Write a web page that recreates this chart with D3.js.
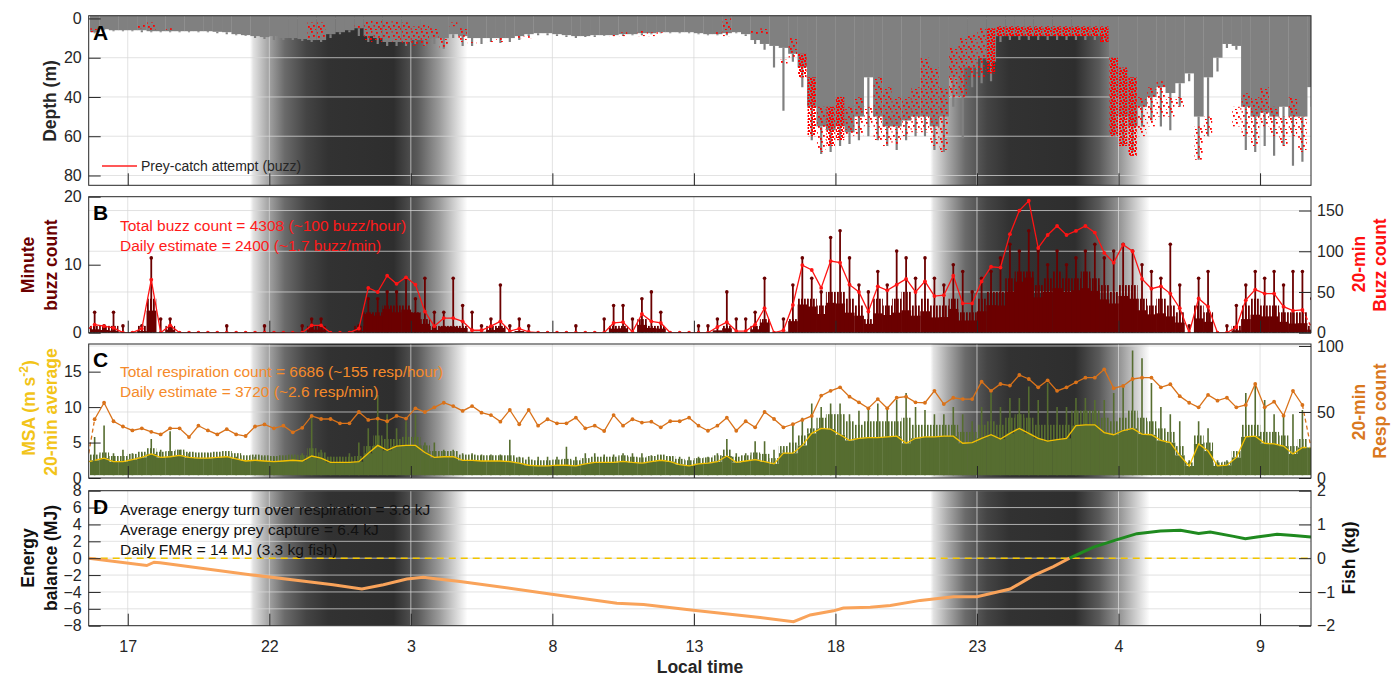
<!DOCTYPE html>
<html>
<head>
<meta charset="utf-8">
<script src="https://cdn.jsdelivr.net/npm/d3@7/dist/d3.min.js"></script>
<style>
  body { margin: 0; background: #fff; }
  svg { display: block; font-family: "Liberation Sans", Arial, Helvetica, sans-serif; }
</style>
</head>
<body>
<svg id="chart" width="1391" height="676"></svg>
<script>
// ---------- data ----------
// time = hours since midnight of day 1 (27 = 03:00 day 2, 51 = 03:00 day 3)
const xTickHours = [17, 22, 27, 32, 37, 42, 47, 52, 57];
const xTickLabels = ["17", "22", "3", "8", "13", "18", "23", "4", "9"];
const timeStart = 15.62, timeEnd = 58.8;
const nightStart = [21.32, 45.35];
const nightEnd = [29.0, 53.1];

// 20-min bins, first bin centred at 15:50 (130 bins)
const binFirst = 15.83;
const binT = d3.range(130).map(k => binFirst + k / 3);
// line series: partial first point, 129 bin points, partial last point
const lineT = [timeStart].concat(binT.slice(0, 129), [58.78]);

// A: dive depth per bin (m): dense part and deepest dive
const depthMass = [7,5.5,6,6,6,6,6.5,6.5,6.5,6.5, 6.5,6.5,6.5,6.8,7,8,8.5,9,9.5,9,
  10,10,10.5,11,11,8,7,6,5,9, 10,12,12,12,11,11,10,10,8,9,
  10,10,10,10,10,9,8,7.5,7.5,8, 8.5,9,9,8.5,8.5,8.5,8,8,7.5,7.5,
  7,7,7,7,7.5,8,8,7.5,7,8, 11,13,14,15,18,25,45,55,57,55,
  58,50,30,50,55,55,52,50, 50,55,50,30,25,25,20,22,9,9,
  9,9,9,9,9,9,9,9,9,9, 40,50,55,45,40,35,38,33,28,50,
  30,20,13,14,45,50,48,50,45,50, 50,35];
const depthMax = [7.5,6,6.5,6.5,6.5,7,7,7,7,7, 7,7,7,7.5,8,8.5,9,10,10.5,11,
  11,11,11.5,12,12,10,8,7,9,12, 13,14,14,14,13,14,13,15.5,10,14,
  14,13,12,12.5,12,11,9,8.5,8.5,9, 9.5,10,9.5,9.5,9,9,9,8.5,8.5,8,
  7.5,7.5,7.5,7.5,8,8.5,8.5,8.5,7.5,9, 13,16,25,47,22,35,62,69,68,65,
  64,62,60,62,65,67,62,60, 60,67,68,45,61,35,33,32,12,11,
  11,11,11,11,11,11,11,11,11,12, 60,65,68,55,52,55,57,45,32,72,
  60,27,15,16,67,68,65,70,65,75, 73,45];
// A: depth range of the buzzes in each bin (m), null = no buzz
const n = null;
const buzzTop = [5,n,n,n,n,3,2,n,5,n, n,n,n,n,n,n,n,n,n,n, n,n,n,2,2,n,n,n,3,1,
  1,1,1,2,4,3,5,10,2,5, 12,n,11,10,n,9,9,n,n,n, n,n,n,n,n,8,7,n,6,7,
  7,n,n,n,n,n,7,0,n,n, 6,5,n,21,10,18,30,45,45,40, 45,40,45,30,35,40,40,35,20,25,
  35,15,10,8,5,5,4,4,4,4, 4,4,4,4,4,4,4,4,20,25, 30,40,35,32,40,40,n,55,50,n,
  n,45,38,40,35,45,50,40,50,n];
const buzzBot = [7,n,n,n,n,5,6,n,6,n, n,n,n,n,n,n,n,n,n,n, n,n,n,10,10,n,n,n,5,12,
  12,10,12,13,14,14,10,15,4,12, 13,n,12,12,n,10,10,n,n,n, n,n,n,n,n,9,9,n,9,9,
  8,n,n,n,n,n,8,9,n,n, 8,8,n,23,20,30,60,68,65,62, 60,60,55,62,65,64,60,58,58,65,
  68,40,40,30,30,28,9,9,9,9, 9,9,9,9,9,9,9,12,60,65, 70,60,55,50,50,45,n,72,60,n,
  n,55,60,65,55,60,65,60,68,n];

// B: buzzes per 20 min (line), max and dense level of buzzes per minute in each bin
const buzz20 = [5,
  10,8,6,0,0,5,65,0,9,0, 0,0,0,0,0,0,0,0,0,0, 0,0,0,9,9,0,0,0,5,55,
  50,70,60,68,59,26,8,18,18,14, 3,3,8,14,2,5,1,0,0,0, 0,0,0,0,0,12,13,1,23,14,
  12,0,0,0,0,0,7,13,2,2, 10,30,0,3,34,83,77,55,88,86, 59,50,26,57,52,59,66,50,63,45,
  46,70,36,36,63,81,80,121,150,162, 104,120,131,120,125,131,123,98,86,108,
  100,66,54,57,48,30,0,42,32,0, 0,7,40,53,48,48,32,27,28,
  9];
const buzzMax = [3,1,3,1,0,1,11,2,2,0, 0,0,0,0,1,0,0,0,1,0, 0,0,1,2,2,0,0,0,1,5,
  5,6,6,8,5,8,3,3,8,4, 3,1,2,7,1,2,1,0,0,0, 0,1,0,0,2,4,4,2,5,6,
  3,0,0,0,1,1,2,6,2,2, 3,8,0,2,7,11,8,6,14,15, 11,7,6,9,7,12,11,8,11,8,
  7,10,9,6,8,9,11,13,12,15, 12,10,12,10,11,12,13,11,12,13,
  12,10,9,8,13,7,1,8,9,0, 1,4,7,9,8,9,7,9,9,5];
const buzzUpper = [1,1,1,0,0,1,5,0,1,0, 0,0,0,0,0,0,0,0,0,0, 0,0,0,1,1,0,0,0,1,3,
  3,4,4,4,3,2,1,1,1,1, 0,0,1,1,0,0,0,0,0,0, 0,0,0,0,0,1,1,0,2,1,
  1,0,0,0,0,0,0,1,0,0, 1,2,0,0,2,5,5,4,6,6, 5,4,2,5,4,5,6,4,5,4,
  4,5,3,3,5,6,6,8,9,9, 7,8,9,8,8,9,8,7,6,7, 7,5,4,5,4,3,0,4,3,0,
  0,1,4,5,4,4,3,3,3,1];

// C: respirations per 20 min, 20-min mean MSA (m s^-2), dense level and peak MSA per bin
const resp20 = [18.7,
  44.5,57,43,39,36,37.6,35,33,37.6,37.6, 31,39.6,36,33,37,33,31.8,39,40.6,37.6,
  39.6,34.6,38,47,44.7,44.7,41.4,41.4,50,44, 45,43,47,45,52.8,50,53.5,57,54.5,50.8,
  54.5,49.5,47.7,42.7,51.5,40.7,51.5,39.6,44.5,41.4, 41.4,45.7,37.6,39.6,35.6,47.7,39.6,44.5,42,42.7,
  38.4,43,43,45.7,39.6,35.8,39.6,45.7,35.8,43, 38.4,50,44.7,38.4,40.7,44,47,62.4,66,68.7,
  61.6,57.3,52.8,59.8,52.8,60.8,61.6,57.3,57,66, 56,60.8,59.8,59.8,73,66,71.2,70,78,75,
  68.7,74,66,68.7,72.5,76,76,82.3,68,69.7, 75,76,76,68.7,71,62,57,53.5,62.9,58.6,
  60.8,53.5,55.3,71.2,53.5,57.8,47.2,66,55.3,
  25];
const msa20 = [2.3,
  2.5,2.8,2.3,2.3,2.6,2.9,3.4,2.9,3.0,3.2, 2.9,2.8,2.8,2.9,3.0,2.7,2.4,2.5,2.4,2.3,
  2.4,2.5,2.4,3.1,2.8,2.2,2.2,2.2,2.3,3.5, 4.6,3.9,4.5,4.6,4.6,3.6,2.9,3.0,3.0,2.5,
  2.5,2.4,2.4,2.4,2.3,2.1,1.8,1.7,1.7,1.8, 1.8,1.7,2.0,2.2,2.2,2.2,2.35,2.2,2.1,2.3,
  2.5,2.3,1.9,1.7,2.0,2.1,2.3,3.1,2.2,2.4, 2.6,2.3,2.0,3.5,3.5,4.6,6.3,7.0,6.9,6.1,
  5.3,5.6,5.7,5.7,5.8,5.9,4.9,5.6,5.8,5.8, 5.9,5.9,4.9,5.0,5.6,6.1,5.5,6.3,7.0,6.3,
  5.6,5.2,5.4,5.6,7.4,7.5,7.5,6.4,6.1,6.7, 7.0,6.2,6.1,5.3,5.0,3.2,1.7,4.8,3.8,1.7,
  1.8,2.9,5.8,5.9,4.9,4.8,4.5,3.4,4.3,
  4.3];
const msaUpper = [3.3,3.6,3.1,3.1,3.4,3.7,4.2,3.7,3.8,4.0, 3.7,3.6,3.6,3.7,3.8,3.5,3.2,3.3,3.2,3.1,
  3.2,3.3,3.2,4.2,3.6,3.0,3.0,3.0,3.1,4.5, 6,5.5,5.5,5.8,5.8,4.6,3.8,3.8,3.8,3.3,
  3.3,3.2,3.2,3.2,3.2,2.9,2.6,2.5,2.5,2.6, 2.7,2.5,2.8,3.0,3.0,3.0,3.2,3.0,2.9,3.1,
  3.3,3.1,2.7,2.5,2.8,2.9,3.2,4.0,3.0,3.2, 3.6,3.4,2.8,4.5,5,6,7,8.5,9,9,
  8,7.5,8,8,8,8,8.5,7.5,7.5,7.5, 7.5,7.5,6.5,6.5,7.5,8,7.5,8.5,9,8.5,
  7.5,7.5,7.5,7.5,9.5,9.5,9.5,8.5,8,8.5, 9.5,8.5,8,7,6.5,4.5,2.2,6,5,2.2,
  2.3,3.8,7.5,7.5,6.5,6.5,6,4.5,5.5,4];
const msaPeak = [5.8,7.4,3.5,4,3.5,3.5,5.5,4,6.6,4, 3.5,3,3.5,3,3,3,2.5,3,3,3,
  2.5,3,3.5,8.6,4,3,3,3.5,5,7, 11.7,9,7,8,9,5,5,4,4,3.5,
  3.5,3.3,3.3,3.3,5.4,3,3,3,3,3, 4.4,3,3.5,3.5,3.3,3.3,3.5,3.5,3.5,3.2,
  3.2,3,3,3,3,3,3.5,5.5,3.5,3.5, 5.2,5.2,4,4,7.5,8.5,10.5,10,10.5,10.5,
  9,9.5,10,10.5,10,11,12,10,9.6,9, 9,10,9,8,10,12,10,11.3,11.3,12.9,
  11,13.4,10,10,11.3,11.3,11,11,12,13, 18,16.9,13.4,10,9,8,2.5,8,7,2.5,
  2.5,3,12,13.4,11,9,9,9,9.6,6];

// D: cumulative energy balance (MJ); fish equivalent = MJ / 4 (kg)
const energyT = [15.62,17.67,17.93,18.14,21.32,23.09,24.25,25.27,26.03,26.86,27.44,27.8,28.74,
  31.98,34.28,35.22,36.98,39.34,40.52,41.11,41.93,42.28,43.23,43.94,45.0,46.17,47.0,48.17,
  48.99,49.7,50.27,51.12,51.95,52.65,53.48,54.19,54.83,55.24,56.07,56.48,56.89,57.6,58.19,58.8];
const energyMJ = [0,-0.87,-0.48,-0.55,-1.95,-2.66,-3.14,-3.66,-3.14,-2.46,-2.27,-2.4,-2.75,
  -4.26,-5.33,-5.5,-6.17,-7.04,-7.52,-6.72,-6.24,-5.9,-5.8,-5.6,-5.0,-4.57,-4.57,-3.66,
  -2.07,-0.99,0,1.31,2.2,2.91,3.22,3.3,2.93,3.1,2.59,2.3,2.5,2.83,2.7,2.5];

// ---------- layout ----------
const svg = d3.select("#chart");
const defs = svg.append("defs");
const x = d3.scaleLinear().domain([timeStart, timeEnd]).range([88.7, 1311]);
const binW = x(binFirst + 1 / 3) - x(binFirst);

const panels = {
  A: { top: 15.7, bottom: 185.3 },
  B: { top: 196.7, bottom: 332.7 },
  C: { top: 344, bottom: 478 },
  D: { top: 490.7, bottom: 625.7 }
};
const yA = d3.scaleLinear().domain([-1.4, 85]).range([panels.A.top, panels.A.bottom]);
const yBl = d3.scaleLinear().domain([0, 20]).range([panels.B.bottom, panels.B.top]);
const yBr = d3.scaleLinear().domain([0, 167]).range([panels.B.bottom, panels.B.top]);
const yCl = d3.scaleLinear().domain([0, 18.9]).range([panels.C.bottom, panels.C.top]);
const yCr = d3.scaleLinear().domain([0, 101.5]).range([panels.C.bottom, panels.C.top]);
const yDl = d3.scaleLinear().domain([-8, 8]).range([panels.D.bottom, panels.D.top]);
const yDr = d3.scaleLinear().domain([-2, 2]).range([panels.D.bottom, panels.D.top]);

// night shading gradient
const shadeStops = [[0, "#ffffff"], [0.015, "#e2e2e2"], [0.08, "#a8a8a8"], [0.16, "#6a6a6a"],
  [0.26, "#444444"], [0.36, "#323232"], [0.66, "#2e2e2e"], [0.77, "#5a5a5a"],
  [0.87, "#9a9a9a"], [0.95, "#d8d8d8"], [1, "#ffffff"]];
const grad = defs.append("linearGradient").attr("id", "night")
  .attr("x1", 0).attr("x2", 1).attr("y1", 0).attr("y2", 0);
grad.selectAll("stop").data(shadeStops).join("stop")
  .attr("offset", d => d[0]).attr("stop-color", d => d[1]);

// textures: red buzz dots (panel A) and dense stems (panels B, C)
function dotPattern(id, size, dot, cells) {
  const p = defs.append("pattern").attr("id", id)
    .attr("patternUnits", "userSpaceOnUse").attr("width", size).attr("height", size);
  cells.forEach(c => p.append("rect").attr("x", c[0]).attr("y", c[1])
    .attr("width", dot).attr("height", dot).attr("fill", "#ff0000"));
}
dotPattern("buzzSparse", 10, 1.8, [[1, 1], [6, 2], [3, 5], [8, 6], [0, 8], [5, 9]]);
dotPattern("buzzDense", 6, 2, [[0, 0], [3, 1], [1, 3], [4, 4], [2, 5]]);
function hatch(id, color, period, w) {
  defs.append("pattern").attr("id", id).attr("patternUnits", "userSpaceOnUse")
    .attr("width", period).attr("height", 10)
    .append("rect").attr("width", w).attr("height", 10).attr("fill", color);
}
const buzzRed = "#6b0000";
const msaGreen = "#566d30";
hatch("stemsB", buzzRed, 3, 1.8);
hatch("stemsC", msaGreen, 3, 1.6);

// background, grid and clip for one panel
function panel(key, gridVals, yScale) {
  const p = panels[key];
  defs.append("clipPath").attr("id", "clip" + key).append("rect")
    .attr("x", x.range()[0]).attr("y", p.top)
    .attr("width", x.range()[1] - x.range()[0]).attr("height", p.bottom - p.top);
  const g = svg.append("g").attr("clip-path", `url(#clip${key})`);
  nightStart.forEach((s, i) => {
    g.append("rect").attr("x", x(s)).attr("width", x(nightEnd[i]) - x(s))
      .attr("y", p.top).attr("height", p.bottom - p.top).attr("fill", "url(#night)");
  });
  const grid = g.append("g").attr("stroke", "#d8d8d8").attr("stroke-opacity", 0.75);
  gridVals.forEach(v => grid.append("line").attr("x1", x.range()[0]).attr("x2", x.range()[1])
    .attr("y1", yScale(v)).attr("y2", yScale(v)));
  xTickHours.forEach(h => grid.append("line").attr("x1", x(h)).attr("x2", x(h))
    .attr("y1", p.top).attr("y2", p.bottom));
  return g;
}

function styleAxis(sel) {
  sel.select(".domain").remove();
  sel.selectAll(".tick line").attr("stroke", "#262626");
  sel.selectAll(".tick text").attr("fill", "#262626").style("font-size", "16px");
}

function axes(key, yLeft, leftTicks, yRight, rightTicks) {
  const p = panels[key];
  svg.append("g").attr("transform", `translate(${x.range()[0]},0)`)
    .call(d3.axisLeft(yLeft).tickValues(leftTicks).tickFormat(d3.format("d"))
      .tickSize(-12).tickSizeOuter(0).tickPadding(7))
    .call(styleAxis);
  if (yRight) {
    svg.append("g").attr("transform", `translate(${x.range()[1]},0)`)
      .call(d3.axisRight(yRight).tickValues(rightTicks).tickFormat(d3.format("d"))
        .tickSize(-12).tickSizeOuter(0).tickPadding(6))
      .call(styleAxis);
  }
  const xa = d3.axisBottom(x).tickValues(xTickHours).tickSize(-12).tickSizeOuter(0);
  if (key === "D") xa.tickFormat((d, i) => xTickLabels[i]).tickPadding(15);
  else xa.tickFormat("");
  svg.append("g").attr("transform", `translate(0,${p.bottom})`).call(xa).call(styleAxis);
  svg.append("rect").attr("x", x.range()[0]).attr("y", p.top)
    .attr("width", x.range()[1] - x.range()[0]).attr("height", p.bottom - p.top)
    .attr("fill", "none").attr("stroke", "#262626").attr("stroke-width", 1);
  svg.append("text").attr("x", 93).attr("y", p.top + (key === "A" ? 24 : 23))
    .attr("font-size", "21px").attr("font-weight", "bold").attr("fill", "#000").text(key);
}

function vlabel(xb, yc, parts, color, size) {
  const t = svg.append("text").attr("transform", `translate(${xb},${yc}) rotate(-90)`)
    .attr("text-anchor", "middle").attr("font-weight", "bold")
    .attr("font-size", (size || 17.5) + "px").attr("fill", color);
  parts.forEach(s => {
    if (typeof s === "string") t.append("tspan").text(s);
    else t.append("tspan").attr("dy", s.dy).attr("font-size", s.size).text(s.text);
  });
}

// line with markers; first and last (partial-bin) segments dashed
function seriesLine(g, vals, yScale, color, withDots) {
  const pts = vals.map((v, i) => [x(lineT[i]), yScale(v)]);
  const line = d3.line();
  g.append("path").attr("d", line(pts.slice(1, pts.length - 1)))
    .attr("fill", "none").attr("stroke", color).attr("stroke-width", 1.3);
  [pts.slice(0, 2), pts.slice(pts.length - 2)].forEach(seg => {
    g.append("path").attr("d", line(seg)).attr("fill", "none").attr("stroke", color)
      .attr("stroke-width", 1.3).attr("stroke-dasharray", "4,3");
  });
  if (withDots) {
    g.selectAll(null).data(pts.slice(1, pts.length - 1)).join("circle")
      .attr("cx", d => d[0]).attr("cy", d => d[1]).attr("r", 1.9).attr("fill", color);
  }
}

// bins drawn as rectangles between two levels
function binRects(g, lo, hi, yScale, fill) {
  g.selectAll(null).data(binT.map((t, i) => [t, lo(i), hi(i)]).filter(d => d[2] > d[1]))
    .join("rect")
    .attr("x", d => x(d[0]) - binW / 2).attr("width", binW + 0.3)
    .attr("y", d => yScale(d[2])).attr("height", d => yScale(d[1]) - yScale(d[2]))
    .attr("fill", fill);
}

// ---------- A: depth ----------
const gA = panel("A", [0, 20, 40, 60, 80], yA);
gA.selectAll(null).data(binT).join("rect")
  .attr("x", t => x(t) - binW / 2).attr("width", binW + 0.3)
  .attr("y", yA(-1.4)).attr("height", (t, i) => yA(depthMass[i]) - yA(-1.4))
  .attr("fill", "#808080");
gA.selectAll(null).data(binT).join("line")
  .attr("x1", t => x(t)).attr("x2", t => x(t))
  .attr("y1", (t, i) => yA(depthMass[i])).attr("y2", (t, i) => yA(depthMax[i]))
  .attr("stroke", "#808080").attr("stroke-width", 2.2);
gA.selectAll(null).data(binT.map((t, i) => [t, buzzTop[i], buzzBot[i], buzz20[i + 1]]).filter(d => d[1] !== null))
  .join("rect")
  .attr("x", d => x(d[0]) - binW / 2 + 0.5).attr("width", binW - 1)
  .attr("y", d => yA(d[1])).attr("height", d => Math.max(2, yA(d[2]) - yA(d[1])))
  .attr("fill", d => d[3] > 70 ? "url(#buzzDense)" : "url(#buzzSparse)");
axes("A", yA, [0, 20, 40, 60, 80]);
vlabel(56, 101, ["Depth (m)"], "#262626");
svg.append("line").attr("x1", 102).attr("x2", 137).attr("y1", 166).attr("y2", 166)
  .attr("stroke", "#ff2020").attr("stroke-width", 1.3);
svg.append("text").attr("x", 141).attr("y", 171).attr("font-size", "14px").attr("fill", "#262626")
  .text("Prey-catch attempt (buzz)");

// ---------- B: buzzes ----------
const gB = panel("B", [0, 50, 100, 150], yBr);
binRects(gB, i => 0, i => buzzUpper[i], yBl, "url(#stemsB)");
binRects(gB, i => 0, i => buzz20[i + 1] / 20, yBl, buzzRed);
const stemsB = binT.map((t, i) => [t, buzzMax[i]]).filter(d => d[1] > 0);
gB.selectAll(null).data(stemsB).join("line")
  .attr("x1", d => x(d[0])).attr("x2", d => x(d[0])).attr("y1", yBl(0)).attr("y2", d => yBl(d[1]))
  .attr("stroke", buzzRed).attr("stroke-width", 1.8);
gB.selectAll(null).data(stemsB).join("circle")
  .attr("cx", d => x(d[0])).attr("cy", d => yBl(d[1])).attr("r", 1.8).attr("fill", buzzRed);
seriesLine(gB, buzz20, yBr, "#ff1414", true);
axes("B", yBl, [0, 10, 20], yBr, [0, 50, 100, 150]);
vlabel(34, 265, ["Minute"], buzzRed);
vlabel(57, 265, ["buzz count"], buzzRed);
vlabel(1365, 264, ["20-min"], "#ff1010");
vlabel(1386, 265, ["Buzz count"], "#ff1010");
svg.append("text").attr("x", 120).attr("y", 231).attr("font-size", "15.5px").attr("fill", "#ff1a1a")
  .text("Total buzz count = 4308 (~100 buzz/hour)");
svg.append("text").attr("x", 120).attr("y", 251).attr("font-size", "15.5px").attr("fill", "#ff1a1a")
  .text("Daily estimate = 2400 (~1.7 buzz/min)");

// ---------- C: respiration and MSA ----------
const gC = panel("C", [0, 50, 100], yCr);
binRects(gC, i => msa20[i + 1], i => msaUpper[i], yCl, "url(#stemsC)");
binRects(gC, i => 0.4, i => msa20[i + 1], yCl, msaGreen);
gC.selectAll(null).data(binT).join("line")
  .attr("x1", t => x(t)).attr("x2", t => x(t))
  .attr("y1", yCl(0.4)).attr("y2", (t, i) => yCl(msaPeak[i]))
  .attr("stroke", msaGreen).attr("stroke-width", 1.6);
seriesLine(gC, msa20, yCl, "#f2c000", false);
seriesLine(gC, resp20, yCr, "#d9721a", true);
axes("C", yCl, [0, 5, 10, 15], yCr, [0, 50, 100]);
vlabel(35, 408, ["MSA (m s", { text: "-2", dy: -7, size: "12px" }, { text: ")", dy: 7, size: "17.5px" }], "#f2c419");
vlabel(57, 412, ["20-min average"], "#f2c419");
vlabel(1365, 412, ["20-min"], "#d9781e");
vlabel(1386, 411, ["Resp count"], "#d9781e");
svg.append("text").attr("x", 120).attr("y", 377).attr("font-size", "15.5px").attr("fill", "#f58a2a")
  .text("Total respiration count = 6686 (~155 resp/hour)");
svg.append("text").attr("x", 120).attr("y", 397).attr("font-size", "15.5px").attr("fill", "#f58a2a")
  .text("Daily estimate = 3720 (~2.6 resp/min)");

// ---------- D: energy balance ----------
const gD = panel("D", d3.range(-8, 9, 2), yDl);
gD.append("line").attr("x1", x.range()[0]).attr("x2", x.range()[1])
  .attr("y1", yDl(0)).attr("y2", yDl(0))
  .attr("stroke", "#f2c500").attr("stroke-width", 1.6).attr("stroke-dasharray", "7,5");
const ePts = energyT.map((t, i) => [x(t), yDl(energyMJ[i])]);
const cross = energyMJ.findIndex((v, i) => i > 0 && v >= 0);
gD.append("path").attr("d", d3.line()(ePts.slice(0, cross + 1)))
  .attr("fill", "none").attr("stroke", "#f9a35a").attr("stroke-width", 3);
gD.append("path").attr("d", d3.line()(ePts.slice(cross)))
  .attr("fill", "none").attr("stroke", "#1f8a1f").attr("stroke-width", 3);
axes("D", yDl, d3.range(-8, 9, 2), yDr, [-2, -1, 0, 1, 2]);
vlabel(34, 558, ["Energy"], "#111");
vlabel(57, 558, ["balance (MJ)"], "#111");
vlabel(1355, 558, ["Fish (kg)"], "#111");
["Average energy turn over respiration = 3.8 kJ", "Average energy prey capture = 6.4 kJ",
 "Daily FMR = 14 MJ (3.3 kg fish)"].forEach((s, i) => {
  svg.append("text").attr("x", 120).attr("y", 515 + 20 * i).attr("font-size", "15.5px")
    .attr("fill", "#111").text(s);
});
svg.append("text").attr("x", 700).attr("y", 673).attr("text-anchor", "middle")
  .attr("font-size", "17.5px").attr("font-weight", "bold").attr("fill", "#262626").text("Local time");
</script>
</body>
</html>
